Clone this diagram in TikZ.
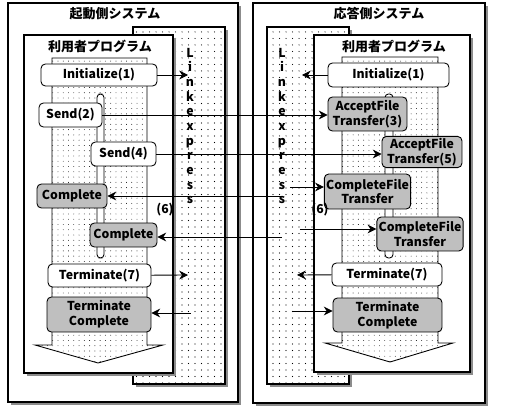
\documentclass[tikz,border=0pt]{standalone}
\usepackage{fontspec}
\setmainfont{Noto Sans CJK JP}
\usetikzlibrary{arrows.meta,fit,positioning,shadows,patterns.meta}
\tikzset{frame/.style={draw, line width=0.6pt, fill=white, inner sep=0pt,
		drop shadow={shadow xshift=1.8pt, shadow yshift=-1.8pt, fill=black!45, opacity=1}},
	dotbox/.style={frame, postaction={pattern={Dots[distance=3.7pt, radius=0.32pt]}}},
	column/.style={draw, line width=0.5pt, fill=white, postaction={pattern={Dots[distance=3pt, radius=0.25pt]}}},
	block/.style={draw, line width=0.5pt, rounded corners=2.5pt, fill=white, inner sep=1pt,
		font=\bfseries\fontsize{7}{8.5}\selectfont, align=center},
	done/.style={block, fill=black!25},
	title/.style={font=\bfseries\fontsize{7.4}{8}\selectfont},
	letters/.style={font=\bfseries\fontsize{7}{8.33}\selectfont, align=center},
	note/.style={font=\bfseries\fontsize{7}{8}\selectfont},
	arrow/.style={draw, line width=0.5pt, -{Stealth[length=5pt,width=5pt]}},
	lifeline/.style={draw, line width=0.5pt, fill=white, rounded corners=2pt}}

\begin{document}
\begin{tikzpicture}[x=0.02cm,y=-0.02cm]
	\useasboundingbox (0,0) rectangle (505,409);
	% initiating side
	\node[frame, fit={(8,3) (238,402)}] (initsys) {};
	\node[title] (initsystitle) at (115,14) {起動側システム};
	\node[dotbox, fit={(133,27) (225,384)}] (linkL) {};
	\node[frame, fit={(24,35) (173,373)}] (progL) {};
	\node[title] (progLtitle) at (100,46) {利用者プログラム};
	\draw[column] (52,58) -- (147,58) -- (147,345) -- (163,345) -- (98,363) -- (35,345) -- (52,345) -- cycle;
	\draw[lifeline] (97,94) rectangle (104,258);
	\node[letters] (lxL) at (190,126) {L\\i\\n\\k\\e\\x\\p\\r\\e\\s\\s};
	
	\node[block, minimum width=2.32cm, minimum height=0.44cm] (initL) at (99,75) {Initialize(1)};
	\node[block, minimum width=1.26cm, minimum height=0.48cm] (sendA) at (70.5,115) {Send(2)};
	\node[block, minimum width=1.30cm, minimum height=0.48cm] (sendB) at (123.5,154) {Send(4)};
	\node[done, minimum width=1.40cm, minimum height=0.48cm] (compA) at (72,196) {Complete};
	\node[done, minimum width=1.34cm, minimum height=0.48cm] (compB) at (123.5,235) {Complete};
	\node[block, minimum width=2.06cm, minimum height=0.46cm] (termL) at (99.5,275.5) {Terminate(7)};
	\node[done, minimum width=2.08cm, minimum height=0.70cm] (tcompL) at (99,314.5) {Terminate\\Complete};
	\node[note] (sixL) at (165,210) {(6)};
	
	% responding side
	\node[frame, fit={(253,3) (485,403)}] (respsys) {};
	\node[title] (respsystitle) at (379,14) {応答側システム};
	\node[dotbox, fit={(267,27) (349,384)}] (linkR) {};
	\node[frame, fit={(314,35) (470,372)}] (progR) {};
	\node[title] (progRtitle) at (394,46) {利用者プログラム};
	\draw[column] (342,57) -- (438,57) -- (438,343) -- (453,343) -- (390,362) -- (325,343) -- (342,343) -- cycle;
	\draw[lifeline] (385,94) rectangle (393,258);
	\node[letters] (lxR) at (282,126) {L\\i\\n\\k\\e\\x\\p\\r\\e\\s\\s};
	
	\node[block, minimum width=2.42cm, minimum height=0.48cm] (initR) at (388.5,75) {Initialize(1)};
	\node[done, minimum width=1.58cm, minimum height=0.68cm] (accA) at (367.5,114) {AcceptFile\\Transfer(3)};
	\node[done, minimum width=1.60cm, minimum height=0.60cm] (accB) at (422,152) {AcceptFile\\Transfer(5)};
	\node[done, minimum width=1.62cm, minimum height=0.70cm] (cftA) at (367.5,191.5) {CompleteFile\\Transfer};
	\node[done, minimum width=1.56cm, minimum height=0.68cm] (cftB) at (420,234) {CompleteFile\\Transfer};
	\node[block, minimum width=2.20cm, minimum height=0.46cm] (termR) at (387,274.5) {Terminate(7)};
	\node[done, minimum width=2.18cm, minimum height=0.68cm] (tcompR) at (387.5,315) {Terminate\\Complete};
	\node[note] (sixR) at (320,210) {(6)};
	
	% free ends inside Linkexpress
	\coordinate (initLend) at (188,75);
	\coordinate (termLend) at (188,275);
	\coordinate (tcompLin) at (191,313);
	\coordinate (compAin) at (283,196);
	\coordinate (compBin) at (282,237);
	\coordinate (initRend) at (302,75);
	\coordinate (termRend) at (297,275);
	\coordinate (tcompRin) at (293,311);
	\coordinate (cftAin) at (290,187);
	\coordinate (cftBin) at (300,229);
	
	\draw[arrow] (initL) -- (initLend);
	\draw[arrow] (sendA.east) -- (sendA.east -| accA.west);
	\draw[arrow] (sendB.east) -- (sendB.east -| accB.west);
	\draw[arrow] (cftAin) -- (cftAin -| cftA.west);
	\draw[arrow] (compAin) -- (compAin -| compA.east);
	\draw[arrow] (cftBin) -- (cftBin -| cftB.west);
	\draw[arrow] (compBin) -- (compBin -| compB.east);
	\draw[arrow] (termL) -- (termLend);
	\draw[arrow] (tcompLin) -- (tcompLin -| tcompL.east);
	\draw[arrow] (initR) -- (initRend);
	\draw[arrow] (termR) -- (termRend);
	\draw[arrow] (tcompRin) -- (tcompRin -| tcompR.west);
\end{tikzpicture}
\end{document}
